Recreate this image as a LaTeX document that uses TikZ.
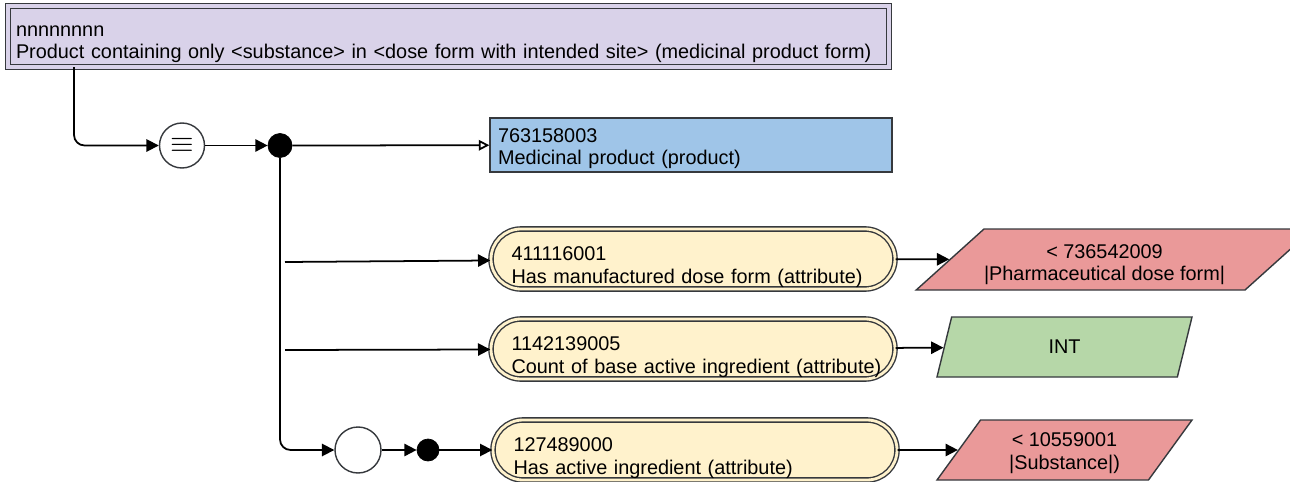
\documentclass[tikz,border=0pt]{standalone}
\usepackage{xcolor}
\usepackage{fontspec}
\setmainfont{Liberation Sans}
\usepackage{tikz}
\usetikzlibrary{shapes.geometric, positioning, arrows.meta}

\definecolor{lavenderfill}{HTML}{D9D2E9}
\definecolor{bluefill}{HTML}{9FC5E8}
\definecolor{yellowfill}{HTML}{FFF2CC}
\definecolor{redfill}{HTML}{EA9999}
\definecolor{greenfill}{HTML}{B6D7A8}
\definecolor{edgegray}{HTML}{36393D}

\begin{document}
\begin{tikzpicture}[
    every node/.style={font=\fontsize{11.3pt}{12.6pt}\selectfont},
    defined_box/.style={rectangle, text height=13.8pt, text depth=13.8pt, inner ysep=1pt, draw=edgegray, line width=0.8pt, double=lavenderfill, double distance=2pt, fill=lavenderfill, minimum width=17.62cm, minimum height=1.22cm, text width=17.3cm, inner xsep=0.16cm, align=left},
    concept_box/.style={rectangle, text height=12.1pt, text depth=15.5pt, inner ysep=1pt, draw=edgegray, line width=0.8pt, fill=bluefill, minimum width=8.04cm, minimum height=1.08cm, text width=7.72cm, inner xsep=0.16cm, align=left},
    attr_box/.style={rectangle, text height=14.9pt, text depth=12.7pt, inner ysep=1pt, rounded corners=0.6cm, draw=edgegray, line width=0.8pt, double=yellowfill, double distance=1.6pt, fill=yellowfill, minimum width=8.08cm, minimum height=1.2cm, text width=7.7cm, inner xsep=0.19cm, align=left, execute at begin node={\leftskip=0.22cm\relax}},
    value_box/.style={trapezium, trapezium stretches body, draw=edgegray, line width=0.8pt, align=center, inner sep=0pt},
    equiv_circ/.style={circle, draw=edgegray, line width=0.8pt, fill=white, minimum size=0.9cm, inner sep=0pt},
    dot/.style={circle, draw=black, fill=black, inner sep=0pt},
    line_style/.style={draw=black, line width=1pt, -{Triangle[length=7pt, width=7pt]}},
    isa_style/.style={draw=black, line width=1pt, -{Triangle[open, length=6pt, width=6pt]}}
]

\useasboundingbox (0,0) rectangle (25.8,-9.64);

% Defined concept
\node[defined_box] (defined) at (8.97,-0.73) {nnnnnnnn\\Product containing only <substance> in <dose form with intended site> (medicinal product form)};

% Definition status and conjunction
\node[equiv_circ] (equiv) at (3.64,-2.91) {\LARGE$\equiv$};
\node[dot, minimum size=0.48cm] (conj) at (5.6,-2.91) {};

% Parent concept
\node[concept_box] (parent) at (13.82,-2.9) {763158003\\Medicinal product (product)};

% Attributes
\node[attr_box] (attr1) at (13.86,-5.18) {411116001\\Has manufactured dose form (attribute)};
\node[attr_box] (attr2) at (13.86,-6.98) {1142139005\\Count of base active ingredient (attribute)};
\node[attr_box] (attr3) at (13.9,-9.0) {127489000\\Has active ingredient (attribute)};

% Attribute group
\node[equiv_circ, minimum size=0.92cm] (group) at (7.16,-9.0) {};
\node[dot, minimum size=0.44cm] (group_conj) at (8.56,-9.0) {};

% Values
\node[value_box, text height=24.1pt, text depth=-1pt, fill=redfill, trapezium left angle=32, trapezium right angle=148, minimum width=7.78cm, minimum height=1.22cm] (value1) at (22.29,-5.19) {< 736542009\hspace*{0.4cm}\\|Pharmaceutical dose form|\hspace*{0.4cm}};
\node[value_box, fill=greenfill, trapezium left angle=43, trapezium right angle=137, minimum width=5.1cm, minimum height=1.2cm] (value2) at (21.29,-6.94) {INT};
\node[value_box, text height=22.4pt, text depth=0.7pt, fill=redfill, trapezium left angle=43, trapezium right angle=137, minimum width=5.1cm, minimum height=1.2cm] (value3) at (21.29,-9.0) {< 10559001\\|Substance|)};

% Branch points
\coordinate (top_tap) at (1.48,-1.34);
\coordinate (branch1) at (5.7,-5.24);
\coordinate (branch2) at (5.7,-7.0);

% Connectors
\draw[line_style, rounded corners=6pt] (top_tap) |- (equiv);
\draw[line_style] (equiv) -- (conj);
\draw[isa_style] (conj) -- (parent);
\draw[line_style, rounded corners=6pt] (conj) |- (group);
\draw[line_style] (branch1) -- (attr1);
\draw[line_style] (branch2) -- (attr2);
\draw[line_style] (group) -- (group_conj);
\draw[line_style] (group_conj) -- (attr3);

% Attribute values
\draw[line_style] (attr1) -- (value1);
\draw[line_style] (attr2) -- (value2);
\draw[line_style] (attr3) -- (value3);

\end{tikzpicture}
\end{document}
